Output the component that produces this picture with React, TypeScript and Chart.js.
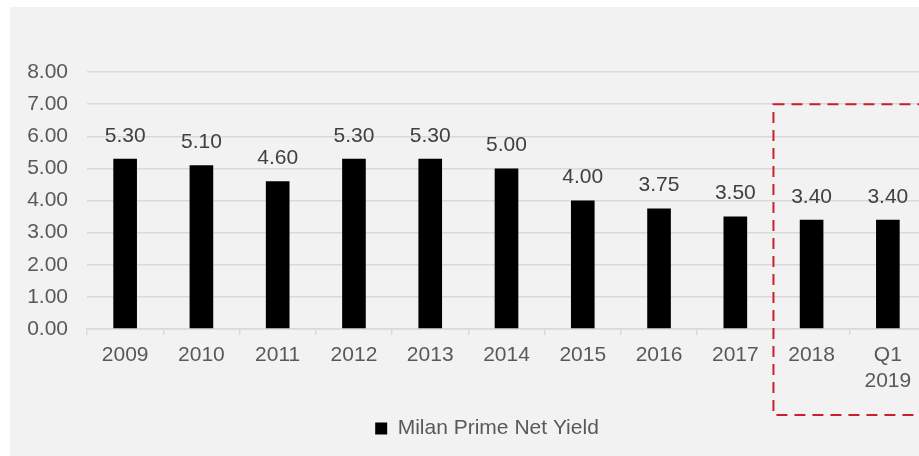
import React, { useEffect, useRef } from "react";
import { Chart, registerables } from "chart.js";

Chart.register(...registerables);

const categories: (string | string[])[] = [
  "2009", "2010", "2011", "2012", "2013", "2014", "2015", "2016", "2017", "2018", ["Q1", "2019"],
];
const yieldValues = [5.3, 5.1, 4.6, 5.3, 5.3, 5.0, 4.0, 3.75, 3.5, 3.4, 3.4];
const seriesName = "Milan Prime Net Yield";
const yTicks = { min: 0, max: 8, step: 1 };
const highlightFrom = 9; // first highlighted category index (2018)

const FONT = "'Liberation Sans', Arial, sans-serif";

const labelPlugin = {
  id: "valueLabels",
  afterDatasetsDraw(chart: any) {
    const ctx = chart.ctx;
    const meta = chart.getDatasetMeta(0);
    ctx.save();
    ctx.font = `21px ${FONT}`;
    ctx.fillStyle = "#404040";
    ctx.textAlign = "center";
    ctx.textBaseline = "middle";
    meta.data.forEach((bar: any, i: number) => {
      const v = chart.data.datasets[0].data[i] as number;
      ctx.fillText(v.toFixed(2), bar.x, bar.y - 23);
    });
    ctx.restore();
  },
};

const boxPlugin = {
  id: "highlightBox",
  afterLayout(chart: any) {
    // center the legend on the full canvas width
    if (chart.legend) {
      chart.legend.left = 0;
      chart.legend.right = chart.width;
      chart.legend.width = chart.width;
    }
  },
  afterDraw(chart: any) {
    const ctx = chart.ctx;
    const xs = chart.scales.x;
    const ys = chart.scales.y;
    const left = (xs.getPixelForValue(highlightFrom - 1) + xs.getPixelForValue(highlightFrom)) / 2;
    const top = ys.getPixelForValue(7);
    const bottom = chart.chartArea.bottom + 86;
    const right = chart.width + 30;
    ctx.save();
    ctx.strokeStyle = "#c8202e";
    ctx.lineWidth = 2;
    ctx.setLineDash([11, 7]);
    ctx.strokeRect(left, top, right - left, bottom - top);
    ctx.restore();
  },
};

export default function App() {
  const ref = useRef<HTMLCanvasElement | null>(null);
  useEffect(() => {
    if (!ref.current) return;
    const chart = new Chart(ref.current, {
      type: "bar",
      data: {
        labels: categories,
        datasets: [
          {
            label: seriesName,
            data: yieldValues,
            backgroundColor: "#000000",
            borderWidth: 0,
            barPercentage: 0.31,
            categoryPercentage: 1,
          },
        ],
      },
      options: {
        animation: false,
        responsive: true,
        maintainAspectRatio: false,
        layout: { padding: { top: 65, right: 38, bottom: 7, left: 0 } },
        plugins: {
          tooltip: { enabled: false },
          legend: {
            position: "bottom",
            labels: {
              boxWidth: 12,
              boxHeight: 12,
              color: "#595959",
              font: { family: FONT, size: 21 },
              padding: 10,
            },
          },
        },
        scales: {
          x: {
            offset: true,
            grid: {
              offset: true,
              drawOnChartArea: false,
              drawTicks: true,
              tickLength: 6,
              color: "#d9d9d9",
              lineWidth: 1.5,
            },
            border: { color: "#d9d9d9", width: 1.5 },
            ticks: {
              color: "#595959",
              font: { family: FONT, size: 21, lineHeight: 1.25 },
              padding: 7,
              maxRotation: 0,
              autoSkip: false,
            },
            afterFit(scale: any) {
              scale.height = 79;
            },
          },
          y: {
            min: yTicks.min,
            max: yTicks.max,
            grid: { color: "#d9d9d9", lineWidth: 1.5, drawTicks: false },
            border: { display: false },
            ticks: {
              stepSize: yTicks.step,
              color: "#595959",
              font: { family: FONT, size: 21 },
              padding: 19,
              callback: (v: any) => Number(v).toFixed(2),
            },
            afterFit(scale: any) {
              scale.width = 77;
            },
          },
        },
      },
      plugins: [labelPlugin, boxPlugin],
    } as any);
    return () => chart.destroy();
  }, []);

  return (
    <div
      style={{
        position: "fixed",
        left: 10,
        top: 7,
        width: 909,
        height: 449,
        overflow: "hidden",
        background: "#f2f2f2",
      }}
    >
      <div style={{ position: "relative", width: 954, height: 449 }}>
        <canvas ref={ref} />
      </div>
    </div>
  );
}
